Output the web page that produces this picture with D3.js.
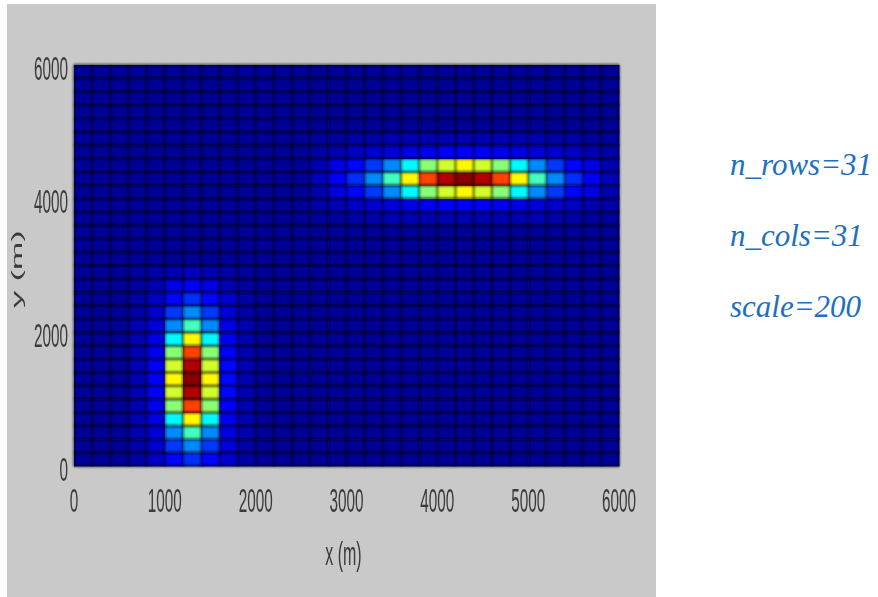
<!DOCTYPE html>
<html>
<head>
<meta charset="utf-8">
<script src="https://cdn.jsdelivr.net/npm/d3@7"></script>
<style>
  body { margin: 0; background: #fff; }
  .tick-label { font-family: "Liberation Sans", Arial, sans-serif; font-size: 34px; fill: #3a3a3a; }
  .note { font-family: "Liberation Serif", "Times New Roman", "DejaVu Serif", serif; font-style: italic; font-size: 31px; fill: #1d6fc0; }
</style>
</head>
<body>
<script>
// grid of 30 x 30 cells, 200 m each (31 nodes per side)
const cellSize = 200;
const nCells = 30;
const baseValue = 0.025;

const xTicks = [0, 1000, 2000, 3000, 4000, 5000, 6000];
const yTicks = [0, 2000, 4000, 6000];

// lower-left blob: columns 3..9, rows 0..14 (row 0 at bottom)
const blobACol0 = 3;
const blobARow0 = 0;
const blobAValues = [
    [0.04, 0.07, 0.13, 0.17, 0.13, 0.08, 0.04],
    [0.04, 0.08, 0.18, 0.26, 0.18, 0.09, 0.04],
    [0.05, 0.09, 0.26, 0.44, 0.26, 0.10, 0.05],
    [0.05, 0.10, 0.37, 0.63, 0.37, 0.11, 0.05],
    [0.05, 0.11, 0.51, 0.81, 0.51, 0.12, 0.05],
    [0.05, 0.12, 0.58, 0.95, 0.58, 0.13, 0.05],
    [0.05, 0.12, 0.63, 0.99, 0.63, 0.13, 0.05],
    [0.05, 0.12, 0.58, 0.95, 0.58, 0.13, 0.05],
    [0.05, 0.11, 0.51, 0.81, 0.51, 0.12, 0.05],
    [0.05, 0.10, 0.37, 0.63, 0.37, 0.11, 0.05],
    [0.05, 0.09, 0.26, 0.44, 0.26, 0.10, 0.05],
    [0.04, 0.08, 0.18, 0.26, 0.18, 0.09, 0.04],
    [0.04, 0.07, 0.13, 0.17, 0.13, 0.08, 0.04],
    [0.03, 0.05, 0.10, 0.12, 0.10, 0.05, 0.03],
    [0.03, 0.04, 0.05, 0.06, 0.05, 0.04, 0.03]
];

// upper-right blob: columns 13..29, rows 18..24
const blobBCol0 = 13;
const blobBRow0 = 18;
const blobBValues = [
    [0.03, 0.03, 0.04, 0.04, 0.05, 0.05, 0.05, 0.05, 0.05, 0.05, 0.05, 0.05, 0.05, 0.04, 0.04, 0.03, 0.03],
    [0.04, 0.05, 0.07, 0.08, 0.09, 0.10, 0.11, 0.12, 0.12, 0.12, 0.11, 0.10, 0.09, 0.08, 0.07, 0.05, 0.04],
    [0.05, 0.10, 0.13, 0.18, 0.26, 0.37, 0.51, 0.58, 0.63, 0.58, 0.51, 0.37, 0.26, 0.18, 0.13, 0.10, 0.05],
    [0.06, 0.12, 0.17, 0.26, 0.44, 0.63, 0.81, 0.95, 0.99, 0.95, 0.81, 0.63, 0.44, 0.26, 0.17, 0.12, 0.06],
    [0.05, 0.10, 0.13, 0.18, 0.26, 0.37, 0.51, 0.58, 0.63, 0.58, 0.51, 0.37, 0.26, 0.18, 0.13, 0.10, 0.05],
    [0.04, 0.05, 0.07, 0.08, 0.09, 0.10, 0.11, 0.12, 0.12, 0.12, 0.11, 0.10, 0.09, 0.08, 0.07, 0.05, 0.04],
    [0.03, 0.03, 0.04, 0.04, 0.05, 0.05, 0.05, 0.05, 0.05, 0.05, 0.05, 0.05, 0.05, 0.04, 0.04, 0.03, 0.03]
];

const notes = ['n_rows=31', 'n_cols=31', 'scale=200'];

const width = 878, height = 597;
const plot = { left: 74, right: 619, top: 65, bottom: 466 };

const svg = d3.select('body').append('svg')
    .attr('width', width)
    .attr('height', height);

const defs = svg.append('defs');
defs.append('filter').attr('id', 'soft')
    .append('feGaussianBlur').attr('stdDeviation', 0.9);
defs.append('filter').attr('id', 'softText')
    .append('feGaussianBlur').attr('stdDeviation', 0.35);

// gray figure background
svg.append('rect')
    .attr('x', 7).attr('y', 4)
    .attr('width', 649).attr('height', height - 4)
    .attr('fill', '#c9c9c9');

let xScale = d3.scaleLinear().domain([0, 6000]).range([plot.left, plot.right]);
let yScale = d3.scaleLinear().domain([0, 6000]).range([plot.bottom, plot.top]);

// jet colormap
let jet = d3.scaleLinear()
    .domain([0, 0.125, 0.375, 0.625, 0.875, 1])
    .range(['#000080', '#0000ff', '#00ffff', '#ffff00', '#ff0000', '#800000'])
    .clamp(true);

// build cell list
let cells = [];
for (let r = 0; r < nCells; r++) {
    for (let c = 0; c < nCells; c++) {
        cells.push({ row: r, col: c, value: baseValue });
    }
}
function putPatch(values, col0, row0) {
    values.forEach((rowVals, k) => {
        rowVals.forEach((v, m) => {
            cells[(row0 + k) * nCells + col0 + m].value = v;
        });
    });
}
putPatch(blobAValues, blobACol0, blobARow0);
putPatch(blobBValues, blobBCol0, blobBRow0);

svg.append('g')
    .attr('id', 'cells')
    .selectAll('rect')
    .data(cells)
    .enter()
    .append('rect')
    .attr('x', d => xScale(d.col * cellSize))
    .attr('y', d => yScale((d.row + 1) * cellSize))
    .attr('width', d => xScale((d.col + 1) * cellSize) - xScale(d.col * cellSize) + 0.5)
    .attr('height', d => yScale(d.row * cellSize) - yScale((d.row + 1) * cellSize) + 0.5)
    .attr('fill', d => jet(d.value));

// dark cell edges
let edges = d3.range(0, nCells + 1).map(k => k * cellSize);
let grid = svg.append('g').attr('id', 'grid').attr('filter', 'url(#soft)');
grid.selectAll('line.v')
    .data(edges)
    .enter()
    .append('line')
    .attr('class', 'v')
    .attr('x1', d => xScale(d)).attr('x2', d => xScale(d))
    .attr('y1', plot.top).attr('y2', plot.bottom)
    .attr('stroke', '#000')
    .attr('stroke-opacity', 0.55)
    .attr('stroke-width', 2.2);
grid.selectAll('line.h')
    .data(edges)
    .enter()
    .append('line')
    .attr('class', 'h')
    .attr('x1', plot.left).attr('x2', plot.right)
    .attr('y1', d => yScale(d)).attr('y2', d => yScale(d))
    .attr('stroke', '#000')
    .attr('stroke-opacity', 0.6)
    .attr('stroke-width', 2.6);

// squeezed tick labels
let labels = svg.append('g').attr('filter', 'url(#softText)');
labels.selectAll('text.xt')
    .data(xTicks)
    .enter()
    .append('text')
    .attr('class', 'tick-label xt')
    .attr('transform', d => 'translate(' + xScale(d) + ',' + 500 + ') scale(0.45,1)')
    .attr('text-anchor', 'middle')
    .attr('dominant-baseline', 'central')
    .text(d => d);

labels.selectAll('text.yt')
    .data(yTicks)
    .enter()
    .append('text')
    .attr('class', 'tick-label yt')
    .attr('transform', d => 'translate(' + 68 + ',' + (yScale(d) + 3) + ') scale(0.45,1)')
    .attr('text-anchor', 'end')
    .attr('dominant-baseline', 'central')
    .text(d => d);

labels.append('text')
    .attr('class', 'tick-label')
    .attr('transform', 'translate(' + ((plot.left + plot.right) / 2 - 3) + ',553) scale(0.47,1)')
    .attr('text-anchor', 'middle')
    .attr('dominant-baseline', 'central')
    .text('x (m)');

labels.append('text')
    .attr('class', 'tick-label')
    .attr('transform', 'translate(17,269) scale(0.45,1) rotate(-90)')
    .attr('text-anchor', 'middle')
    .attr('dominant-baseline', 'central')
    .text('y (m)');

// parameter notes on the right
svg.selectAll('text.note')
    .data(notes)
    .enter()
    .append('text')
    .attr('class', 'note')
    .attr('x', 730)
    .attr('y', (d, i) => 175 + i * 71)
    .text(d => d);
</script>
</body>
</html>
